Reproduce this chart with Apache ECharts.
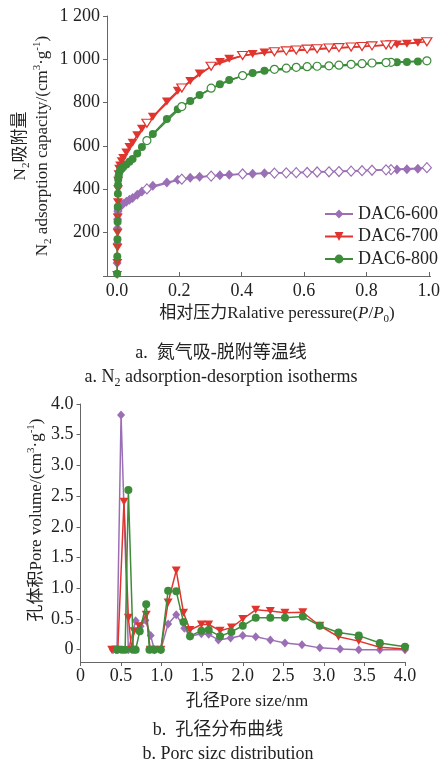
<!DOCTYPE html>
<html><head><meta charset="utf-8">
<script src="https://cdn.jsdelivr.net/npm/echarts@6/dist/echarts.min.js"></script>
<style>html,body{margin:0;padding:0;background:#fff}#c{width:443px;height:767px}</style>
</head><body><div id="c"></div>
<script>
// ---------- data ----------
const seriesNames = ['DAC6-600', 'DAC6-700', 'DAC6-800'];
// (a) N2 isotherms: relative pressure P/P0 and adsorbed volume (cm3/g)
const adsP = [0.0005,0.001,0.0015,0.002,0.0025,0.003,0.0035,0.004,0.005,0.007,0.01,0.015,0.02,0.03,0.04,0.05,0.065,0.08,0.115,0.16,0.195,0.235,0.265,0.33,0.36,0.435,0.473,0.898,0.93,0.965];
const ads600 = [60,150,220,262,285,298,305,310,315,318,322,328,333,343,352,360,375,390,416,432,444,454,458,465,467,472,474,491,493,495];
const ads700 = [5,60,130,200,270,340,400,440,470,495,510,530,545,570,595,615,650,680,735,805,855,900,935,988,1003,1025,1031,1069,1072,1076];
const ads800 = [10,90,170,250,320,380,420,445,460,477,488,495,503,515,527,540,565,595,655,725,770,808,835,885,905,937,947,987,988,990];
const desP = [0.994,0.879,0.863,0.818,0.786,0.751,0.712,0.68,0.642,0.61,0.575,0.543,0.505,0.403,0.302,0.208,0.096];
const des600 = [500,491,490,488,486,484,482,481,480,478,477,476,475,471,461,447,402];
const des700 = [1081,1067,1066,1062,1059,1057,1054,1052,1049,1047,1043,1039,1035,1018,968,868,705];
const des800 = [993,986,985,983,980,977,973,970,968,966,963,959,954,925,867,782,625];
const isoXTicks = [0, 0.2, 0.4, 0.6, 0.8, 1.0];
const isoYTicks = [200, 400, 600, 800, 1000, 1200];
// (b) pore size distribution: pore size (nm) and pore volume
const poreX600 = [0.40,0.45,0.50,0.59,0.68,0.74,0.80,0.865,0.91,0.99,1.08,1.18,1.28,1.35,1.49,1.58,1.70,1.85,2.00,2.16,2.34,2.52,2.73,2.95,3.20,3.43,3.69,4.00];
const pore600 = [0,0,3.82,0,0.47,0.38,0.48,0.23,0,0,0.42,0.57,0.35,0.22,0.26,0.25,0.16,0.19,0.23,0.21,0.16,0.11,0.08,0.03,0.01,0,0,0];
const poreX700 = [0.385,0.43,0.46,0.536,0.59,0.63,0.66,0.725,0.81,0.86,0.91,0.99,1.08,1.18,1.27,1.35,1.49,1.58,1.72,1.86,2.00,2.16,2.34,2.52,2.74,2.95,3.18,3.43,3.69,4.00];
const pore700 = [0,0,0,2.41,0.52,0,0.30,0.38,0.57,0,0,0,0.77,1.29,0.60,0.32,0.41,0.41,0.31,0.36,0.50,0.65,0.63,0.60,0.61,0.39,0.21,0.14,0.04,0.01];
const poreX800 = [0.45,0.51,0.55,0.59,0.65,0.68,0.73,0.81,0.85,0.91,0.99,1.08,1.18,1.27,1.35,1.49,1.58,1.72,1.86,2.00,2.16,2.34,2.52,2.74,2.95,3.18,3.43,3.69,4.00];
const pore800 = [0,0,0,2.60,0,0,0.30,0.74,0,0,0,0.96,0.95,0.45,0.22,0.31,0.32,0.22,0.29,0.39,0.52,0.52,0.52,0.54,0.39,0.28,0.23,0.11,0.05];
const poreXTicks = [0, 0.5, 1.0, 1.5, 2.0, 2.5, 3.0, 3.5, 4.0];
const poreYTicks = [0, 0.5, 1.0, 1.5, 2.0, 2.5, 3.0, 3.5, 4.0];

// ---------- style ----------
const SERIF = "'Liberation Serif','Times New Roman','Noto Sans CJK SC',serif";
const colors = ['#9b6fb5', '#e0352f', '#3c8c3a'];
const triDown = 'path://M0,0L10,0L5,9Z';
const symTop = [['diamond', [9, 10]], [triDown, [10, 8]], ['circle', 8]];
const symBot = [['diamond', [8, 9]], [triDown, [9, 8]], ['circle', 8]];
const AX = '#666';
const TXT = '#222';

const zip = (xs, ys) => xs.map((x, i) => [x, ys[i]]);
const fmt1 = v => (v === 0 ? '0' : v.toFixed(1));
const fmtK = v => (v >= 1000 ? String(v).replace(/(\d)(\d{3})$/, '$1 $2') : String(v));

function lineSeries(name, data, ci, sym, open, xi) {
  return {
    name, type: 'line', xAxisIndex: xi, yAxisIndex: xi, data,
    symbol: sym[ci][0], symbolSize: sym[ci][1], showAllSymbol: true,
    lineStyle: { color: colors[ci], width: 1.5 },
    itemStyle: open ? { color: '#fff', borderColor: colors[ci], borderWidth: 1.2 } : { color: colors[ci], borderWidth: 0 },
    emphasis: { disabled: true }, z: 2 + ci
  };
}

const series = [];
const ads = [ads600, ads700, ads800], des = [des600, des700, des800];
for (let i = 0; i < 3; i++) {
  series.push(lineSeries(seriesNames[i], zip(adsP, ads[i]), i, symTop, false, 0));
  series.push(lineSeries(seriesNames[i] + ' desorption', zip(desP, des[i]), i, symTop, true, 0));
}
const px = [poreX600, poreX700, poreX800], pv = [pore600, pore700, pore800];
for (let i = 0; i < 3; i++) {
  series.push(lineSeries(seriesNames[i] + ' pore', zip(px[i], pv[i]), i, symBot, false, 1));
}

const lab = (extra) => Object.assign({ fontSize: 18, fontFamily: SERIF, color: TXT }, extra);
const rich = {
  n: { fontSize: 17, fontFamily: SERIF, color: TXT, lineHeight: 22 },
  i: { fontSize: 17, fontFamily: SERIF, color: TXT, lineHeight: 22, fontStyle: 'italic' },
  sub: { fontSize: 11, fontFamily: SERIF, color: TXT, lineHeight: 12, verticalAlign: 'bottom' },
  sup: { fontSize: 11, fontFamily: SERIF, color: TXT, lineHeight: 12, verticalAlign: 'top' },
  c: { fontSize: 18, fontFamily: SERIF, color: TXT, lineHeight: 24 },
  cs: { fontSize: 12, fontFamily: SERIF, color: TXT, lineHeight: 12, verticalAlign: 'bottom' }
};
function txt(x, y, text, rot) {
  return { type: 'text', x, y, rotation: rot || 0, silent: true,
    style: { text, rich, align: 'center', verticalAlign: 'middle', textAlign: 'center', textVerticalAlign: 'middle', fill: TXT, font: '17px ' + SERIF } };
}

const option = {
  animation: false,
  backgroundColor: '#fff',
  grid: [
    { left: 107, top: 16, width: 325, height: 260 },
    { left: 80.5, top: 404, width: 324.5, height: 258 }
  ],
  xAxis: [
    { type: 'value', gridIndex: 0, min: -0.032, max: 1.006,
      axisLine: { onZero: false, lineStyle: { color: AX, width: 1 } },
      axisTick: { inside: true, length: 4, customValues: isoXTicks, lineStyle: { color: AX } },
      axisLabel: lab({ customValues: isoXTicks, formatter: v => v.toFixed(1), margin: 6 }),
      splitLine: { show: false } },
    { type: 'value', gridIndex: 1, min: 0, max: 4,
      axisLine: { onZero: false, lineStyle: { color: AX, width: 1 } },
      axisTick: { inside: false, length: 4, customValues: poreXTicks, lineStyle: { color: AX } },
      axisLabel: lab({ customValues: poreXTicks, formatter: fmt1, margin: 5 }),
      splitLine: { show: false } }
  ],
  yAxis: [
    { type: 'value', gridIndex: 0, min: 0, max: 1200, interval: 200,
      axisLine: { show: true, onZero: false, lineStyle: { color: AX, width: 1 } },
      axisTick: { show: true, inside: false, length: 4, lineStyle: { color: AX } },
      axisLabel: lab({ customValues: isoYTicks, formatter: fmtK, margin: 7 }),
      splitLine: { show: false } },
    { type: 'value', gridIndex: 1, min: -0.2, max: 4,
      axisLine: { show: true, onZero: false, lineStyle: { color: AX, width: 1 } },
      axisTick: { show: true, inside: false, length: 4, customValues: poreYTicks, lineStyle: { color: AX } },
      axisLabel: lab({ customValues: poreYTicks, formatter: fmt1, margin: 7 }),
      splitLine: { show: false } }
  ],
  legend: {
    data: seriesNames, orient: 'vertical', left: 324, top: 205, padding: 0,
    itemWidth: 28, itemHeight: 11, itemGap: 4.5,
    textStyle: { fontSize: 18, fontFamily: SERIF, color: TXT }
  },
  graphic: [
    txt(32, 146, '{n|N}{sub|2}{n|吸附量}\n{n|N}{sub|2}{n| adsorption capacity/(cm}{sup|3}{n|·g}{sup|-1}{n|)}', Math.PI / 2),
    txt(277, 314, '{n|相对压力Ralative peressure(}{i|P}{n|/}{i|P}{sub|0}{n|)}'),
    txt(221, 353, '{c|a.  氮气吸-脱附等温线}'),
    txt(221, 377, '{c|a. N}{cs|2}{c| adsorption-desorption isotherms}'),
    txt(37, 520, '{n|孔体积Pore volume/(cm}{sup|3}{n|·g}{sup|-1}{n|)}', Math.PI / 2),
    txt(247, 702, '{n|孔径Pore size/nm}'),
    txt(218, 730, '{c|b.  孔径分布曲线}'),
    txt(228, 754, '{c|b. Porc sizc distribution}')
  ],
  series
};
const chart = echarts.init(document.getElementById('c'), null, { renderer: 'canvas' });
chart.setOption(option);
</script>
</body></html>
